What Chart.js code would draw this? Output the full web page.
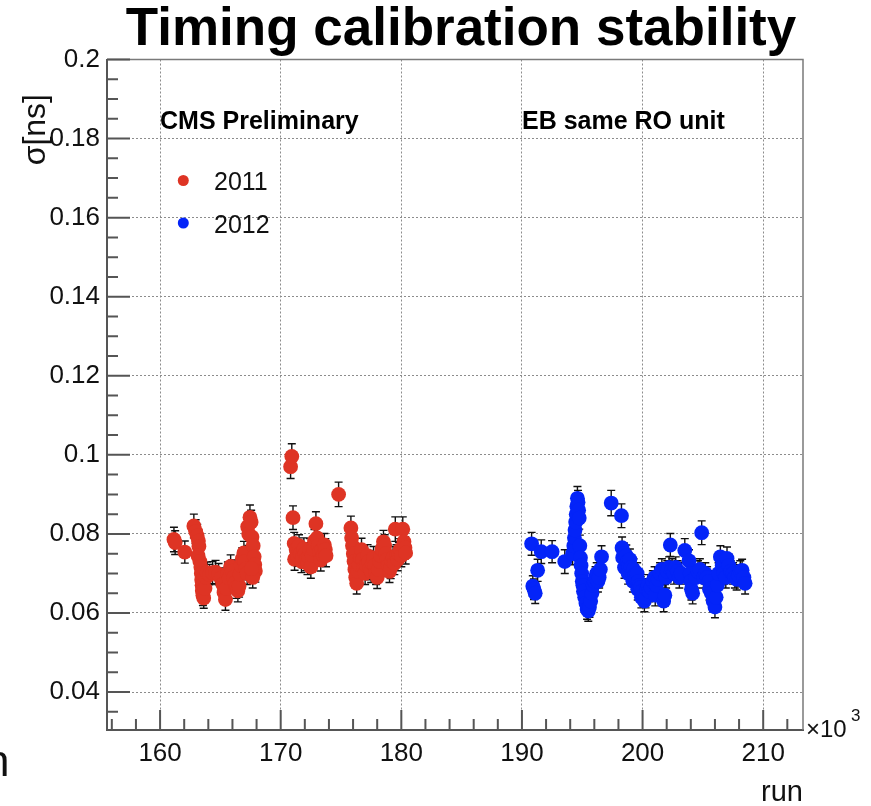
<!DOCTYPE html>
<html><head><meta charset="utf-8">
<script src="https://cdn.jsdelivr.net/npm/chart.js@4.4.1/dist/chart.umd.min.js"></script>
<style>html,body{margin:0;padding:0;background:#fff;}#wrap{width:871px;height:806px;}</style>
</head><body><div id="wrap"><canvas id="c" width="871" height="806"></canvas></div>
<script>
// ---------- chart texts ----------
const chartTitle = 'Timing calibration stability';
const xAxisTitle = 'run';
const yAxisTitle = 'σ[ns]';
const leftLabel = 'CMS Preliminary';
const rightLabel = 'EB same RO unit';
const seriesNames = ['2011', '2012'];

// ---------- axis ticks ----------
const xTickValues = [160, 170, 180, 190, 200, 210];
const xTickLabels = ['160', '170', '180', '190', '200', '210'];
const yTickValues = [0.04, 0.06, 0.08, 0.1, 0.12, 0.14, 0.16, 0.18, 0.2];
const yTickLabels = ['0.04', '0.06', '0.08', '0.1', '0.12', '0.14', '0.16', '0.18', '0.2'];
const xRange = [155.6, 213.3];
const yRange = [0.0304, 0.2];

// ---------- 2011 (run in units of 10^3) ----------
const runs2011 = [161.15,161.25,162.05,162.80,162.95,163.08,163.18,163.22,163.15,163.30,163.38,163.42,163.45,163.48,163.50,163.55,163.62,163.72,163.80,163.90,164.10,164.35,164.60,164.85,165.05,165.20,165.30,165.42,165.50,165.62,165.72,165.85,165.98,166.10,166.22,166.32,166.45,166.55,166.62,166.72,166.82,166.95,167.02,167.12,167.22,167.26,167.35,167.45,167.55,167.62,167.72,167.80,167.85,167.90,167.68,167.58,
 170.82,170.92,171.02,171.12,171.15,171.28,171.40,171.52,171.62,171.72,171.82,171.92,172.02,172.12,172.22,172.32,172.42,172.50,172.60,172.70,172.80,172.92,173.02,173.12,173.22,173.32,173.42,173.52,173.62,173.70,173.76,174.80,
 175.82,175.88,175.95,176.02,176.08,176.15,176.22,176.30,176.40,176.50,176.60,176.70,176.80,176.90,177.00,177.10,177.20,177.30,177.40,177.50,177.60,177.70,177.80,177.90,178.00,178.10,178.20,178.30,178.40,178.52,178.62,178.72,178.82,178.92,179.02,179.12,179.22,179.32,179.42,179.50,179.60,179.70,179.80,179.90,180.00,180.12,180.22,180.30,180.36];
const sigma2011 = [0.0786,0.0778,0.0754,0.0820,0.0806,0.0795,0.0782,0.0768,0.0745,0.0730,0.0716,0.0700,0.0684,0.0670,0.0656,0.0645,0.0638,0.0662,0.0690,0.0702,0.0697,0.0702,0.0703,0.0698,0.0688,0.0672,0.0652,0.0634,0.0662,0.0700,0.0688,0.0718,0.0706,0.0690,0.0676,0.0664,0.0656,0.0668,0.0698,0.0720,0.0737,0.0752,0.0730,0.0712,0.0700,0.0818,0.0800,0.0842,0.0830,0.0792,0.0770,0.0742,0.0722,0.0706,0.0690,0.0712,
 0.0970,0.0996,0.0841,0.0776,0.0736,0.0760,0.0745,0.0770,0.0750,0.0730,0.0742,0.0762,0.0750,0.0735,0.0725,0.0742,0.0760,0.0716,0.0746,0.0762,0.0782,0.0826,0.0790,0.0770,0.0755,0.0734,0.0760,0.0746,0.0772,0.0760,0.0745,0.0900,
 0.0815,0.0790,0.0770,0.0750,0.0730,0.0710,0.0690,0.0675,0.0705,0.0722,0.0740,0.0760,0.0735,0.0715,0.0700,0.0720,0.0745,0.0730,0.0712,0.0705,0.0725,0.0740,0.0720,0.0700,0.0690,0.0710,0.0730,0.0745,0.0762,0.0780,0.0770,0.0750,0.0735,0.0720,0.0705,0.0715,0.0730,0.0740,0.0725,0.0812,0.0745,0.0735,0.0750,0.0760,0.0745,0.0812,0.0780,0.0765,0.0752];
const err2011 = [0.0031,0.0030,0.0028,0.0030,0.0030,0.0029,0.0028,0.0028,0.0027,0.0027,0.0028,0.0028,0.0027,0.0027,0.0026,0.0026,0.0026,0.0027,0.0027,0.0027,0.0026,0.0028,0.0030,0.0027,0.0026,0.0027,0.0027,0.0027,0.0027,0.0029,0.0028,0.0029,0.0028,0.0027,0.0027,0.0027,0.0028,0.0028,0.0028,0.0028,0.0028,0.0029,0.0028,0.0028,0.0028,0.0030,0.0029,0.0031,0.0030,0.0029,0.0029,0.0028,0.0028,0.0028,0.0027,0.0028,
 0.0030,0.0032,0.0030,0.0028,0.0028,0.0028,0.0027,0.0028,0.0028,0.0028,0.0028,0.0028,0.0028,0.0028,0.0028,0.0028,0.0028,0.0028,0.0028,0.0029,0.0029,0.0030,0.0029,0.0029,0.0028,0.0028,0.0028,0.0028,0.0029,0.0028,0.0028,0.0031,
 0.0030,0.0029,0.0029,0.0028,0.0028,0.0028,0.0027,0.0027,0.0028,0.0028,0.0028,0.0029,0.0028,0.0028,0.0028,0.0028,0.0028,0.0028,0.0028,0.0028,0.0028,0.0028,0.0028,0.0028,0.0028,0.0028,0.0028,0.0028,0.0028,0.0029,0.0028,0.0028,0.0028,0.0028,0.0028,0.0028,0.0028,0.0028,0.0028,0.0031,0.0028,0.0028,0.0028,0.0028,0.0028,0.0031,0.0029,0.0028,0.0028];

// ---------- 2012 ----------
const runs2012 = [190.80,190.90,191.00,191.10,191.30,191.60,192.50,193.55,194.20,194.30,194.35,194.40,194.45,194.50,194.55,194.60,194.65,194.70,194.75,194.80,194.85,194.90,194.95,195.00,195.05,195.10,195.20,195.30,195.40,195.50,195.60,195.70,195.80,195.90,196.00,196.10,196.20,196.30,196.40,196.50,196.60,197.40,198.25,
 198.30,198.35,198.45,198.50,198.55,198.65,198.75,198.80,198.85,198.95,199.05,199.15,199.20,199.25,199.35,199.45,199.55,199.60,199.65,199.75,199.85,199.90,199.95,200.05,200.15,200.25,200.35,200.45,200.55,200.70,200.85,201.00,201.05,201.15,201.30,201.45,201.60,201.75,201.85,201.95,202.05,202.20,202.30,202.45,202.60,202.75,202.90,203.05,203.20,203.50,203.85,203.95,204.00,204.05,204.15,204.40,204.60,204.75,204.90,205.05,205.20,205.35,205.50,205.55,205.70,205.85,206.00,206.10,206.20,206.30,206.45,206.60,206.75,206.90,207.00,207.15,207.30,207.50,207.65,207.80,207.95,208.10,208.25,208.40,208.50];
const sigma2012 = [0.0775,0.0668,0.0660,0.0650,0.0708,0.0755,0.0755,0.0730,0.0750,0.0770,0.0790,0.0810,0.0830,0.0850,0.0870,0.0890,0.0880,0.0860,0.0840,0.0770,0.0740,0.0720,0.0700,0.0680,0.0670,0.0655,0.0640,0.0625,0.0610,0.0605,0.0615,0.0630,0.0650,0.0670,0.0680,0.0690,0.0700,0.0680,0.0690,0.0710,0.0742,0.0878,0.0846,
 0.0765,0.0740,0.0750,0.0715,0.0735,0.0745,0.0730,0.0700,0.0720,0.0735,0.0715,0.0700,0.0680,0.0710,0.0695,0.0685,0.0700,0.0660,0.0680,0.0670,0.0665,0.0640,0.0655,0.0645,0.0630,0.0640,0.0660,0.0670,0.0655,0.0665,0.0680,0.0690,0.0645,0.0670,0.0685,0.0700,0.0710,0.0630,0.0645,0.0690,0.0705,0.0715,0.0772,0.0710,0.0700,0.0715,0.0705,0.0690,0.0700,0.0758,0.0732,0.0700,0.0680,0.0660,0.0650,0.0690,0.0705,0.0710,0.0803,0.0690,0.0700,0.0690,0.0680,0.0660,0.0650,0.0630,0.0615,0.0640,0.0670,0.0700,0.0742,0.0720,0.0700,0.0690,0.0738,0.0720,0.0705,0.0700,0.0690,0.0685,0.0695,0.0705,0.0708,0.0690,0.0675];
const err2012 = [0.0029,0.0026,0.0026,0.0026,0.0028,0.0030,0.0028,0.0030,0.0028,0.0028,0.0028,0.0028,0.0028,0.0028,0.0028,0.0030,0.0030,0.0028,0.0028,0.0027,0.0027,0.0027,0.0027,0.0027,0.0027,0.0026,0.0026,0.0026,0.0026,0.0026,0.0026,0.0026,0.0027,0.0027,0.0027,0.0027,0.0027,0.0027,0.0027,0.0027,0.0028,0.0032,0.0030,
 0.0027,0.0027,0.0027,0.0027,0.0027,0.0027,0.0027,0.0027,0.0027,0.0027,0.0027,0.0027,0.0027,0.0027,0.0027,0.0027,0.0027,0.0027,0.0027,0.0027,0.0027,0.0027,0.0027,0.0027,0.0027,0.0027,0.0027,0.0027,0.0027,0.0027,0.0027,0.0027,0.0027,0.0027,0.0027,0.0027,0.0027,0.0027,0.0027,0.0027,0.0027,0.0027,0.0029,0.0027,0.0027,0.0027,0.0027,0.0027,0.0027,0.0030,0.0028,0.0027,0.0027,0.0027,0.0027,0.0027,0.0027,0.0027,0.0030,0.0027,0.0027,0.0027,0.0027,0.0027,0.0027,0.0027,0.0027,0.0027,0.0027,0.0027,0.0028,0.0028,0.0027,0.0027,0.0029,0.0028,0.0027,0.0027,0.0027,0.0027,0.0027,0.0027,0.0028,0.0027,0.0027];

const colors = ['rgb(222,52,36)', 'rgb(4,36,248)'];
const FONT = '"Liberation Sans", Arial, Helvetica, sans-serif';

const seriesRuns = [runs2011, runs2012];
const seriesSigma = [sigma2011, sigma2012];
const seriesErr = [err2011, err2012];

const datasets = seriesNames.map((name, d) => ({
  label: name,
  data: seriesRuns[d].map((r, i) => ({x: r, y: seriesSigma[d][i]})),
  showLine: false,
  pointRadius: 7.4,
  pointHoverRadius: 7.4,
  pointBackgroundColor: colors[d],
  pointBorderWidth: 0,
  borderColor: colors[d],
  backgroundColor: colors[d]
}));

const rootFrame = {
  id: 'rootFrame',
  beforeDatasetsDraw(chart) {
    const {ctx, chartArea: a, scales: {x, y}} = chart;
    ctx.save();
    // frame top/right
    ctx.strokeStyle = '#7a7a7a'; ctx.lineWidth = 1.5;
    ctx.beginPath(); ctx.moveTo(a.left, a.top); ctx.lineTo(a.right, a.top); ctx.lineTo(a.right, a.bottom); ctx.stroke();
    // inside ticks
    ctx.strokeStyle = '#555'; ctx.lineWidth = 2;
    ctx.beginPath();
    for (let k = 78; k <= 106; k++) {
      const v = k * 2, px = x.getPixelForValue(v);
      if (px < a.left || px > a.right) continue;
      const len = (v % 10 === 0) ? 20 : 11;
      ctx.moveTo(px, a.bottom); ctx.lineTo(px, a.bottom - len);
    }
    for (let k = 7; k <= 40; k++) {
      const py = y.getPixelForValue(k * 0.005);
      if (py < a.top - 0.5 || py > a.bottom) continue;
      const len = (k % 4 === 0) ? 23 : 11;
      ctx.moveTo(a.left, py); ctx.lineTo(a.left + len, py);
    }
    ctx.stroke();
    // error bars
    ctx.strokeStyle = '#111'; ctx.lineWidth = 1.4;
    ctx.beginPath();
    for (let d = 0; d < seriesRuns.length; d++) {
      for (let i = 0; i < seriesRuns[d].length; i++) {
        const px = x.getPixelForValue(seriesRuns[d][i]);
        const y1 = y.getPixelForValue(seriesSigma[d][i] - seriesErr[d][i]);
        const y2 = y.getPixelForValue(seriesSigma[d][i] + seriesErr[d][i]);
        ctx.moveTo(px, y1); ctx.lineTo(px, y2);
        ctx.moveTo(px - 4, y1); ctx.lineTo(px + 4, y1);
        ctx.moveTo(px - 4, y2); ctx.lineTo(px + 4, y2);
      }
    }
    ctx.stroke();
    ctx.restore();
  },
  afterDraw(chart) {
    const {ctx, chartArea: a} = chart;
    ctx.save();
    ctx.fillStyle = '#000';
    // title
    ctx.font = 'bold 53px ' + FONT;
    ctx.textAlign = 'center'; ctx.textBaseline = 'alphabetic';
    ctx.fillText(chartTitle, 461, 45);
    // labels in the frame
    ctx.font = 'bold 25px ' + FONT;
    ctx.textAlign = 'left';
    ctx.fillText(leftLabel, 160, 128.5);
    ctx.fillText(rightLabel, 522, 128.5);
    // legend
    const legendY = [180.5, 223];
    ctx.font = '25px ' + FONT;
    chart.data.datasets.forEach((ds, d) => {
      ctx.fillStyle = ds.pointBackgroundColor;
      ctx.beginPath(); ctx.arc(183.3, legendY[d], 5.5, 0, Math.PI * 2); ctx.fill();
      ctx.fillStyle = '#111';
      ctx.fillText(ds.label, 214, legendY[d] + 9.5);
    });
    // axis titles
    ctx.fillStyle = '#111';
    ctx.font = '29px ' + FONT;
    ctx.textAlign = 'right';
    ctx.fillText(xAxisTitle, a.right, 801);
    ctx.save();
    ctx.font = '32px ' + FONT;
    ctx.translate(45, 94); ctx.rotate(-Math.PI / 2);
    ctx.textAlign = 'right';
    ctx.fillText(yAxisTitle, 0, 0);
    ctx.restore();
    // x10^3
    ctx.textAlign = 'left';
    ctx.font = '24px ' + FONT;
    ctx.fillText('×10', 806, 737);
    ctx.font = '17px ' + FONT;
    ctx.fillText('3', 851, 721);
    // stray glyph at the left edge
    ctx.font = '44px ' + FONT;
    ctx.fillText('n', -15, 776);
    ctx.restore();
  }
};

new Chart(document.getElementById('c'), {
  type: 'scatter',
  data: {datasets},
  plugins: [rootFrame],
  options: {
    responsive: false,
    animation: false,
    devicePixelRatio: 1,
    layout: {padding: {left: 0, top: 59.5, right: 68, bottom: 0}},
    plugins: {legend: {display: false}, title: {display: false}, tooltip: {enabled: false}},
    scales: {
      x: {
        type: 'linear', min: xRange[0], max: xRange[1],
        afterBuildTicks: s => { s.ticks = xTickValues.map(v => ({value: v})); },
        afterFit: s => { s.height = 76; },
        ticks: {callback: (v, i) => xTickLabels[i], font: {family: FONT, size: 26}, color: '#111', padding: 8, maxRotation: 0, autoSkip: false},
        grid: {color: '#8c8c8c', lineWidth: 1, drawTicks: false},
        border: {display: true, color: '#555', width: 2, dash: [2, 2]}
      },
      y: {
        type: 'linear', min: yRange[0], max: yRange[1],
        afterBuildTicks: s => { s.ticks = yTickValues.map(v => ({value: v})); },
        afterFit: s => { s.width = 107; },
        ticks: {callback: (v, i) => yTickLabels[i], font: {family: FONT, size: 26}, color: '#111', padding: 7, autoSkip: false},
        grid: {color: '#8c8c8c', lineWidth: 1, drawTicks: false},
        border: {display: true, color: '#555', width: 2, dash: [2, 2]}
      }
    }
  }
});
</script></body></html>
